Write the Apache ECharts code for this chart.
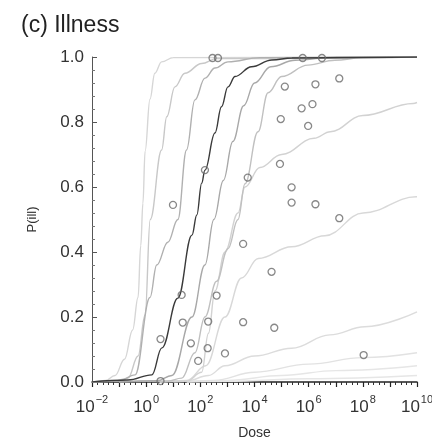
<!DOCTYPE html>
<html>
<head>
<meta charset="utf-8">
<script src="https://cdn.jsdelivr.net/npm/echarts@6/dist/echarts.min.js"></script>
<style>html,body{margin:0;padding:0;background:#fff}#c{width:432px;height:445px}</style>
</head>
<body>
<div id="c"></div>
<script>
// x values are log10(dose); y values are P(ill)
const curveA_x = [-2, -1.5, -1.15, -0.8, -0.5, -0.3, -0.2, -0.12, -0.04, 0.14, 0.32, 0.57, 1.0, 10];
const curveA_y = [0, 0.005, 0.02, 0.07, 0.16, 0.26, 0.42, 0.55, 0.71, 0.87, 0.95, 0.985, 0.998, 1];
const curveB_x = [-2, -1.2, -0.67, -0.3, -0.04, 0.15, 0.57, 0.76, 1.06, 1.43, 2.05, 2.6, 10];
const curveB_y = [0, 0.002, 0.012, 0.08, 0.206, 0.5, 0.714, 0.816, 0.908, 0.95, 0.98, 0.995, 1];
const curveC_x = [-2, -1.0, -0.41, 0.14, 0.39, 0.8, 1.17, 1.49, 1.8, 2.17, 2.54, 3.02, 4.2, 10];
const curveC_y = [0, 0.003, 0.022, 0.26, 0.36, 0.43, 0.5, 0.714, 0.868, 0.935, 0.966, 0.985, 0.998, 1];
const curveDark_x = [-2, -0.67, 0.21, 0.58, 1.17, 1.69, 1.87, 2.05, 2.17, 2.54, 2.78, 3.02, 3.28, 3.89, 4.64, 5.38, 10];
const curveDark_y = [0, 0.006, 0.022, 0.105, 0.258, 0.452, 0.514, 0.612, 0.652, 0.766, 0.847, 0.908, 0.94, 0.97, 0.991, 0.997, 1];
const curveF_x = [-1, 0.4, 0.95, 1.69, 2.17, 2.5, 2.85, 3.2, 3.6, 4.0, 4.6, 5.5, 7, 10];
const curveF_y = [0, 0.004, 0.02, 0.2, 0.36, 0.5, 0.62, 0.74, 0.85, 0.92, 0.97, 0.99, 1, 1];
const curveE_x = [-1, 0.8, 1.31, 1.8, 2.17, 2.6, 3.02, 3.39, 3.65, 4.13, 4.5, 5.0, 5.97, 6.97, 8, 10];
const curveE_y = [0, 0.003, 0.012, 0.09, 0.2, 0.31, 0.41, 0.5, 0.61, 0.77, 0.89, 0.94, 0.975, 0.99, 0.998, 1];
const curveG_x = [0.5, 1.5, 2.05, 2.3, 2.54, 2.91, 3.39, 3.65, 4.2, 5.0, 6.2, 6.8, 8.0, 9.86, 10];
const curveG_y = [0, 0.003, 0.03, 0.15, 0.28, 0.4, 0.52, 0.6, 0.66, 0.7, 0.75, 0.77, 0.82, 0.857, 0.86];
const curveH_x = [0.5, 1.5, 2.2, 2.91, 3.52, 4.14, 5.37, 6.6, 8.01, 9.97, 10];
const curveH_y = [0, 0.005, 0.05, 0.2, 0.32, 0.38, 0.416, 0.45, 0.52, 0.57, 0.57];
const curveI_x = [0.5, 1.5, 2.3, 2.91, 4.0, 5.37, 6.78, 8.07, 10];
const curveI_y = [0, 0.003, 0.02, 0.05, 0.08, 0.104, 0.145, 0.17, 0.216];
const curveJ_x = [1, 2.5, 4, 6, 8, 10];
const curveJ_y = [0, 0.005, 0.03, 0.055, 0.075, 0.09];
const curveK_x = [1.5, 3, 5, 7, 10];
const curveK_y = [0, 0.005, 0.02, 0.035, 0.05];
const curveL_x = [1.5, 3, 6, 10];
const curveL_y = [0, 0.002, 0.01, 0.02];

const obs_x = [2.17, 0.99, 1.31, 2.60, 1.35, 2.29, 0.53, 1.65, 2.27, 2.91, 1.92,
  5.12, 6.25, 7.13, 5.74, 6.14, 4.97, 5.98, 4.94, 3.75, 5.37, 5.37, 6.25, 7.13,
  3.58, 4.63, 3.58, 4.73, 8.03, 2.45, 2.65, 5.78, 6.49, 0.53];
const obs_y = [0.652, 0.545, 0.268, 0.266, 0.183, 0.186, 0.132, 0.119, 0.104, 0.088, 0.065,
  0.909, 0.916, 0.934, 0.842, 0.855, 0.809, 0.788, 0.671, 0.629, 0.599, 0.552, 0.547, 0.504,
  0.425, 0.339, 0.184, 0.167, 0.083, 0.997, 0.997, 0.997, 0.997, 0.003];

const xTickExponents = [-2, 0, 2, 4, 6, 8, 10];

function pairs(xs, ys) { return xs.map((x, i) => [x, ys[i]]); }

const curves = [
  {x: curveL_x, y: curveL_y, c: '#e6e6e6'},
  {x: curveK_x, y: curveK_y, c: '#e6e6e6'},
  {x: curveJ_x, y: curveJ_y, c: '#e2e2e2'},
  {x: curveI_x, y: curveI_y, c: '#dcdcdc'},
  {x: curveH_x, y: curveH_y, c: '#d8d8d8'},
  {x: curveG_x, y: curveG_y, c: '#d2d2d2'},
  {x: curveA_x, y: curveA_y, c: '#d6d6d6'},
  {x: curveB_x, y: curveB_y, c: '#c8c8c8'},
  {x: curveC_x, y: curveC_y, c: '#b0b0b0'},
  {x: curveE_x, y: curveE_y, c: '#c0c0c0'},
  {x: curveF_x, y: curveF_y, c: '#a8a8a8'},
  {x: curveDark_x, y: curveDark_y, c: '#3a3a3a'}
];

const series = curves.map(cv => ({
  type: 'line', data: pairs(cv.x, cv.y), showSymbol: false, smooth: 0.4, smoothMonotone: 'x',
  lineStyle: {color: cv.c, width: 1.4}, silent: true, z: 2
}));
series.push({
  type: 'scatter', data: pairs(obs_x, obs_y), symbol: 'circle', symbolSize: 7,
  itemStyle: {color: 'rgba(255,255,255,0)', borderColor: '#6a6a6a', borderWidth: 1.3}, z: 5
});

const chart = echarts.init(document.getElementById('c'), null, {renderer: 'canvas'});
chart.setOption({
  animation: false,
  backgroundColor: '#fff',
  title: {text: '(c) Illness', left: 16, top: 9,
    textStyle: {fontFamily: 'Liberation Sans', fontSize: 23, fontWeight: 'normal', color: '#222'}},
  grid: {left: 92, right: 15, top: 57, bottom: 63, containLabel: false, outerBoundsMode: 'none'},
  xAxis: {
    type: 'value', min: -2, max: 10, interval: 1,
    name: 'Dose', nameLocation: 'middle', nameGap: 44,
    nameTextStyle: {fontFamily: 'Liberation Sans', fontSize: 14, color: '#333'},
    axisLine: {onZero: false, lineStyle: {color: '#222', width: 1.5}},
    axisTick: {show: true, inside: false, length: 5, lineStyle: {color: '#222', width: 1.2}},
    minorTick: {show: true, splitNumber: 5, length: 3, lineStyle: {color: '#333', width: 1}},
    splitLine: {show: false},
    axisLabel: {
      margin: 12, showMinLabel: true, showMaxLabel: true, hideOverlap: false,
      formatter: function (v) {
        const e = Math.round(v);
        if (xTickExponents.indexOf(e) < 0) return '';
        return '{b|10}{s|' + (e < 0 ? '\u2212' + (-e) : e) + '}';
      },
      rich: {
        b: {fontFamily: 'Liberation Sans', fontSize: 17, color: '#333', lineHeight: 22, verticalAlign: 'bottom'},
        s: {fontFamily: 'Liberation Sans', fontSize: 11, color: '#333', lineHeight: 22, verticalAlign: 'top', padding: [0, 0, 0, 1]}
      }
    }
  },
  yAxis: {
    type: 'value', min: 0, max: 1, interval: 0.2,
    name: 'P(ill)', nameLocation: 'middle', nameGap: 53, nameRotate: 90,
    nameTextStyle: {fontFamily: 'Liberation Sans', fontSize: 13, color: '#333'},
    axisLine: {show: true, onZero: false, lineStyle: {color: '#555', width: 1}},
    axisTick: {show: true, inside: true, length: 5, lineStyle: {color: '#555'}},
    minorTick: {show: true, splitNumber: 5, length: 3, lineStyle: {color: '#777'}},
    splitLine: {show: false},
    axisLabel: {fontFamily: 'Liberation Sans', fontSize: 17, color: '#333', margin: 8,
      formatter: v => v.toFixed(1)}
  },
  series: series
});
</script>
</body>
</html>
